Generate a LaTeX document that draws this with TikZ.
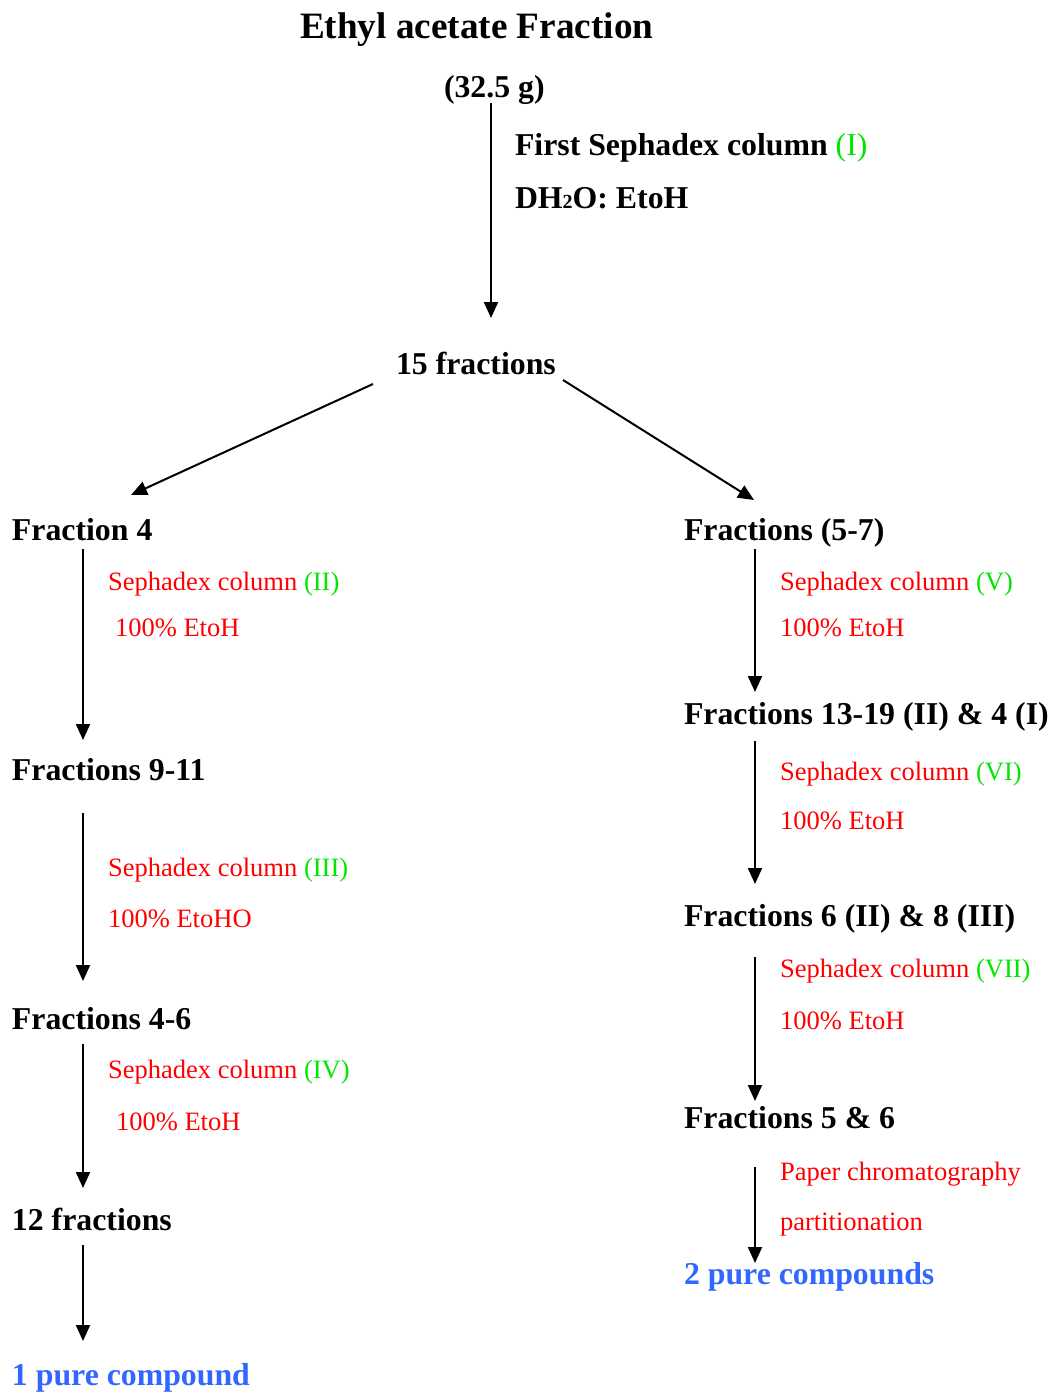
\documentclass[tikz,border=0pt]{standalone}
\usepackage{fontspec}
\setmainfont{Liberation Serif}
\usetikzlibrary{arrows.meta}
\definecolor{tred}{RGB}{255,0,0}
\definecolor{tgreen}{RGB}{0,230,0}
\definecolor{tblue}{RGB}{51,102,255}
\tikzset{
  txt/.style={anchor=base west, inner sep=0pt, outer sep=0pt},
  hdr/.style={txt, font=\fontsize{23.85pt}{28pt}\selectfont\bfseries},
  ttl/.style={txt, font=\fontsize{27.9pt}{32pt}\selectfont\bfseries},
  note/.style={txt, text=tred, font=\fontsize{19.9pt}{24pt}\selectfont},
  res/.style={hdr, text=tblue},
  arr/.style={line width=1.5pt, -{Triangle[width=10.5pt,length=12pt]}},
}
\newcommand{\gr}[1]{\textcolor{tgreen}{#1}}
\begin{document}
\begin{tikzpicture}[x=0.75pt,y=-0.75pt]
\useasboundingbox (0,0) rectangle (1053,1393);
% texts
\node[ttl] (title) at (300,38) {Ethyl acetate Fraction};
\node[hdr] (mass) at (444,97) {(32.5 g)};
\node[hdr] (c1) at (515,155) {First Sephadex column \gr{\mdseries(I)}};
\node[hdr] (s1) at (515,208) {DH{\fontsize{15pt}{15pt}\selectfont 2}O: EtoH};
\node[hdr] (f15) at (396,374) {15 fractions};
% left column
\node[hdr] (f4) at (12,540) {Fraction 4};
\node[note] (c2) at (108,590) {Sephadex column \gr{(II)}};
\node[note] (s2) at (115,636) {100\% EtoH};
\node[hdr] (f911) at (12,780) {Fractions 9-11};
\node[note] (c3) at (108,876) {Sephadex column \gr{(III)}};
\node[note] (s3) at (108,927) {100\% EtoHO};
\node[hdr] (f46) at (12,1029) {Fractions 4-6};
\node[note] (c4) at (108,1078) {Sephadex column \gr{(IV)}};
\node[note] (s4) at (116,1130) {100\% EtoH};
\node[hdr] (f12) at (12,1230) {12 fractions};
\node[res] (p1) at (12,1385) {1 pure compound};
% right column
\node[hdr] (f57) at (684,540) {Fractions (5-7)};
\node[note] (c5) at (780,590) {Sephadex column \gr{(V)}};
\node[note] (s5) at (780,636) {100\% EtoH};
\node[hdr] (f1319) at (684,724) {Fractions 13-19 (II) \& 4 (I)};
\node[note] (c6) at (780,780) {Sephadex column \gr{(VI)}};
\node[note] (s6) at (780,829) {100\% EtoH};
\node[hdr] (f68) at (684,926) {Fractions 6 (II) \& 8 (III)};
\node[note] (c7) at (780,977) {Sephadex column \gr{(VII)}};
\node[note] (s7) at (780,1029) {100\% EtoH};
\node[hdr] (f56) at (684,1128) {Fractions 5 \& 6};
\node[note] (c8) at (780,1180) {Paper chromatography};
\node[note] (s8) at (780,1230) {partitionation};
\node[res] (p2) at (684,1284) {2 pure compounds};
% connector end points
\coordinate (a1s) at (491,103); \coordinate (a1e) at (491,318);
\coordinate (a2s) at (373,384); \coordinate (a2e) at (131,495);
\coordinate (a3s) at (563,380); \coordinate (a3e) at (754,500);
\coordinate (l1s) at (83,549);  \coordinate (l1e) at (83,740);
\coordinate (l2s) at (83,813);  \coordinate (l2e) at (83,981);
\coordinate (l3s) at (83,1044); \coordinate (l3e) at (83,1188);
\coordinate (l4s) at (83,1245); \coordinate (l4e) at (83,1341);
\coordinate (r1s) at (755,549); \coordinate (r1e) at (755,692);
\coordinate (r2s) at (755,741); \coordinate (r2e) at (755,884);
\coordinate (r3s) at (755,957); \coordinate (r3e) at (755,1101);
\coordinate (r4s) at (755,1167); \coordinate (r4e) at (755,1263);
\foreach \a in {a1,a2,a3,l1,l2,l3,l4,r1,r2,r3,r4}
  \draw[arr] (\a s) -- (\a e);
\end{tikzpicture}
\end{document}
